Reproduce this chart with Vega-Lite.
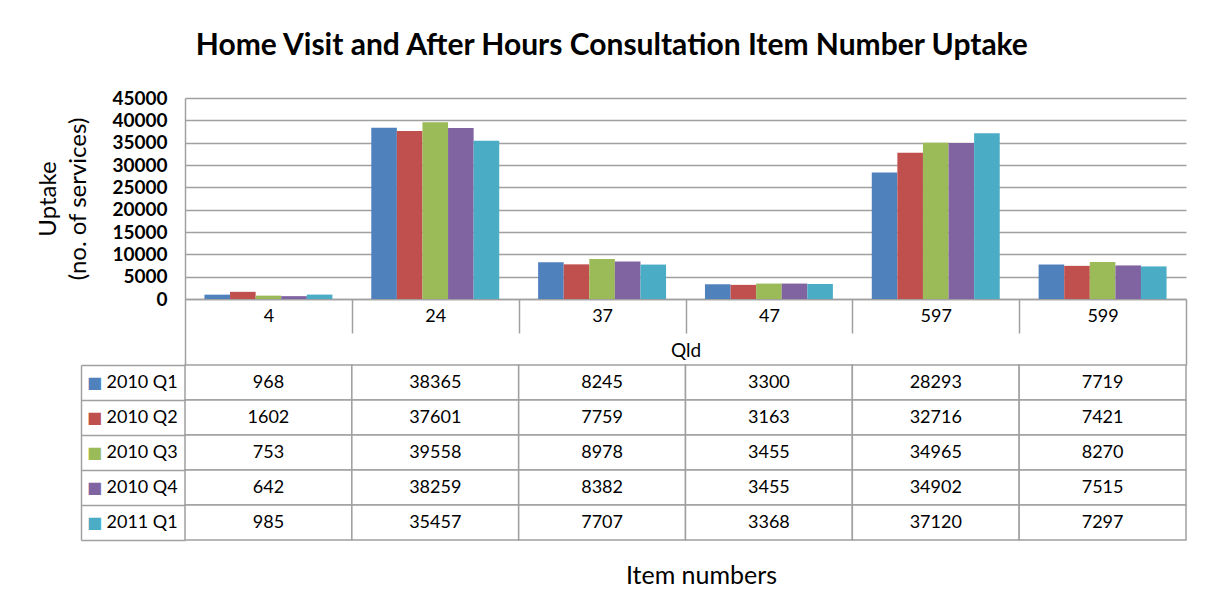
{
  "$schema": "https://vega.github.io/schema/vega-lite/v6.json",
  "padding": {"left": 36, "top": 31, "right": 5, "bottom": 5},
  "background": "white",
  "title": {"text": "Home Visit and After Hours Consultation Item Number Uptake", "font": "Lato", "fontSize": 30, "fontWeight": "bold", "anchor": "middle", "offset": 28, "color": "black"},
  "data": {"values": [
    {"item": "4", "quarter": "2010 Q1", "value": 968},
    {"item": "4", "quarter": "2010 Q2", "value": 1602},
    {"item": "4", "quarter": "2010 Q3", "value": 753},
    {"item": "4", "quarter": "2010 Q4", "value": 642},
    {"item": "4", "quarter": "2011 Q1", "value": 985},
    {"item": "24", "quarter": "2010 Q1", "value": 38365},
    {"item": "24", "quarter": "2010 Q2", "value": 37601},
    {"item": "24", "quarter": "2010 Q3", "value": 39558},
    {"item": "24", "quarter": "2010 Q4", "value": 38259},
    {"item": "24", "quarter": "2011 Q1", "value": 35457},
    {"item": "37", "quarter": "2010 Q1", "value": 8245},
    {"item": "37", "quarter": "2010 Q2", "value": 7759},
    {"item": "37", "quarter": "2010 Q3", "value": 8978},
    {"item": "37", "quarter": "2010 Q4", "value": 8382},
    {"item": "37", "quarter": "2011 Q1", "value": 7707},
    {"item": "47", "quarter": "2010 Q1", "value": 3300},
    {"item": "47", "quarter": "2010 Q2", "value": 3163},
    {"item": "47", "quarter": "2010 Q3", "value": 3455},
    {"item": "47", "quarter": "2010 Q4", "value": 3455},
    {"item": "47", "quarter": "2011 Q1", "value": 3368},
    {"item": "597", "quarter": "2010 Q1", "value": 28293},
    {"item": "597", "quarter": "2010 Q2", "value": 32716},
    {"item": "597", "quarter": "2010 Q3", "value": 34965},
    {"item": "597", "quarter": "2010 Q4", "value": 34902},
    {"item": "597", "quarter": "2011 Q1", "value": 37120},
    {"item": "599", "quarter": "2010 Q1", "value": 7719},
    {"item": "599", "quarter": "2010 Q2", "value": 7421},
    {"item": "599", "quarter": "2010 Q3", "value": 8270},
    {"item": "599", "quarter": "2010 Q4", "value": 7515},
    {"item": "599", "quarter": "2011 Q1", "value": 7297}
  ]},
  "spacing": 66,
  "bounds": "flush",
  "vconcat": [
    {
      "width": 1001,
      "height": 201,
      "mark": {"type": "bar"},
      "encoding": {
        "x": {"field": "item", "type": "nominal", "sort": null,
          "scale": {"paddingInner": 0, "paddingOuter": 0},
          "axis": {"labelAngle": 0, "labelFontSize": 18, "labelFontWeight": "normal", "labelColor": "black",
            "tickBand": "extent",
            "tickSize": {"condition": {"test": "datum.index == 1 || datum.extra", "value": 66}, "value": 34},
            "labelPadding": {"condition": {"test": "datum.index == 1", "value": -58}, "value": -26},
            "tickColor": "#A0A0A0", "tickWidth": 1.5,
            "domainColor": "#A0A0A0", "domainWidth": 1.5,
            "title": "Qld", "titleFontSize": 19, "titleFontWeight": "normal", "titleColor": "black",
            "titleBaseline": "middle", "titleY": 51}},
        "xOffset": {"field": "quarter", "type": "nominal", "sort": null,
          "scale": {"paddingInner": 0, "paddingOuter": 0.76}},
        "y": {"field": "value", "type": "quantitative",
          "scale": {"domain": [0, 45000]},
          "axis": {"values": [0, 5000, 10000, 15000, 20000, 25000, 30000, 35000, 40000, 45000], "format": "d",
            "labelFontSize": 19, "labelFontWeight": "bold", "labelColor": "black", "labelPadding": 18,
            "ticks": false, "domainColor": "#A0A0A0", "domainWidth": 1.5, "gridColor": "#A0A0A0", "gridWidth": 1.5,
            "title": ["Uptake", "(no. of services)"], "titleFontSize": 24, "titleFontWeight": "normal",
            "titleColor": "black", "titlePadding": 21, "titleLineHeight": 30}},
        "color": {"field": "quarter", "type": "nominal", "sort": null,
          "scale": {"domain": ["2010 Q1", "2010 Q2", "2010 Q3", "2010 Q4", "2011 Q1"],
            "range": ["#4F81BD", "#C0504D", "#9BBB59", "#8064A2", "#4BACC6"]},
          "legend": null}
      }
    },
    {
      "width": 1001,
      "height": 175,
      "encoding": {
        "x": {"field": "item", "type": "nominal", "sort": null,
          "scale": {"paddingInner": 0, "paddingOuter": 0},
          "axis": {"labels": false, "ticks": false, "domain": false, "title": "Item numbers",
            "titleFontSize": 25, "titleFontWeight": "normal", "titlePadding": 23, "titleColor": "black",
            "titleX": 516}}
      },
      "layer": [
        {
          "mark": {"type": "rect", "fill": "white", "stroke": "#A0A0A0", "strokeWidth": 1.5},
          "encoding": {
            "y": {"field": "quarter", "type": "nominal", "sort": null,
              "scale": {"paddingInner": 0, "paddingOuter": 0},
              "axis": {"title": null, "domain": false, "tickBand": "extent", "tickSize": 104,
                "tickColor": "#A0A0A0", "tickWidth": 1.5, "labelAlign": "left", "labelPadding": -25,
                "labelFontSize": 18, "labelColor": "black"}}
          }
        },
        {
          "mark": {"type": "text", "fontSize": 18, "color": "black"},
          "encoding": {
            "y": {"field": "quarter", "type": "nominal", "sort": null,
              "axis": {"title": null, "orient": "left", "offset": 104, "ticks": false,
                "domainColor": "#A0A0A0", "domainWidth": 1.5,
                "labelExpr": "'■'", "labelAlign": "center", "labelPadding": -13, "labelFontSize": 16,
                "labelFont": "DejaVu Sans",
                "labelColor": {"condition": [
                  {"test": "datum.value == '2010 Q1'", "value": "#4F81BD"},
                  {"test": "datum.value == '2010 Q2'", "value": "#C0504D"},
                  {"test": "datum.value == '2010 Q3'", "value": "#9BBB59"},
                  {"test": "datum.value == '2010 Q4'", "value": "#8064A2"}
                ], "value": "#4BACC6"}}},
            "text": {"field": "value", "type": "quantitative", "format": "d"}
          }
        }
      ],
      "resolve": {"axis": {"y": "independent"}}
    }
  ],
  "config": {
    "font": "Lato",
    "view": {"stroke": null}
  }
}
